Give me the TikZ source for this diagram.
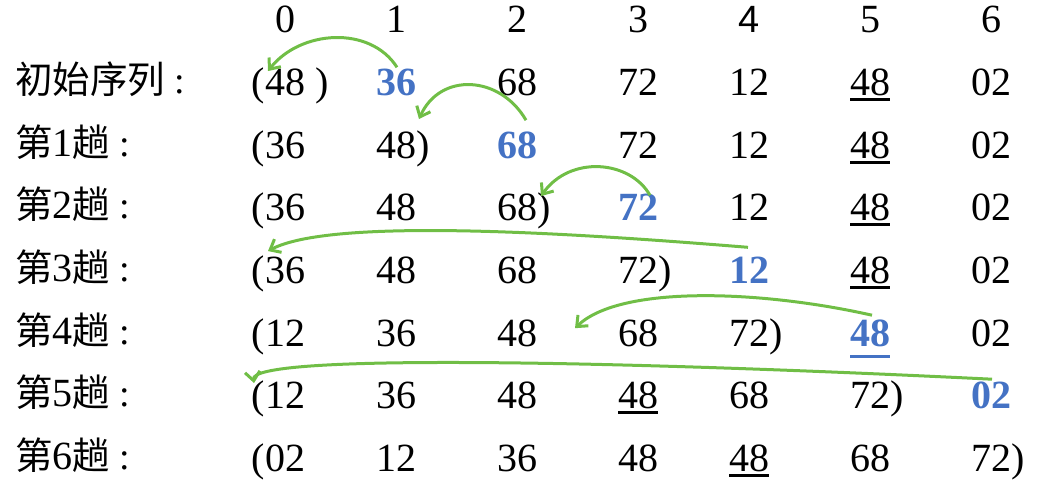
\documentclass[tikz,border=0pt]{standalone}
\usepackage{fontspec}
\setmainfont{Liberation Serif}
\newfontfamily\cjk{Noto Sans CJK SC}
\newfontfamily\hdsans{Liberation Sans}
\usetikzlibrary{arrows.meta,calc}
\definecolor{cblue}{RGB}{68,114,196}
\definecolor{cgreen}{RGB}{112,190,70}
\newcommand\myul[1]{\setbox0\hbox{#1}\rlap{\rule[-6pt]{\wd0}{2.6pt}}\box0}
\newcommand\myulb[1]{\setbox0\hbox{#1}\rlap{\rule[-12pt]{\wd0}{3pt}}\box0}
\newcommand\lab[1]{{\cjk\fontsize{37.5}{44}\selectfont #1}}
\newcommand\colonmark{\kern9pt{\fontsize{38}{44}\selectfont :}}
\tikzset{
  num/.style={anchor=base, inner sep=0pt, font=\fontsize{40}{48}\selectfont},
  hl/.style={anchor=base, inner sep=0pt, text=cblue, font=\fontsize{40}{48}\selectfont\bfseries},
  rowlab/.style={anchor=base west, inner sep=0pt, font=\fontsize{40}{48}\selectfont},
  mv/.style={draw=cgreen, line width=3pt, -{Straight Barb[length=9pt,width=15pt]}},
}
\begin{document}
\begin{tikzpicture}[x=1pt,y=-1pt]
\useasboundingbox (0,0) rectangle (1046,490);
% header
\node[num] (h0) at (285,32) {0};
\node[num] (h1) at (396,32) {1};
\node[num] (h2) at (517,32) {2};
\node[num] (h3) at (638,32) {3};
\node[num,font=\hdsans\fontsize{38}{44}\selectfont] (h4) at (749,32) {4};
\node[num] (h5) at (870,32) {5};
\node[num] (h6) at (991,32) {6};
% labels
\node[rowlab] (l0) at (15,93) {\lab{初始序列}\colonmark};
\node[rowlab] (l1) at (15,156) {\lab{第}1\lab{趟}\colonmark};
\node[rowlab] (l2) at (15,218) {\lab{第}2\lab{趟}\colonmark};
\node[rowlab] (l3) at (15,281) {\lab{第}3\lab{趟}\colonmark};
\node[rowlab] (l4) at (15,344) {\lab{第}4\lab{趟}\colonmark};
\node[rowlab] (l5) at (15,406) {\lab{第}5\lab{趟}\colonmark};
\node[rowlab] (l6) at (15,469) {\lab{第}6\lab{趟}\colonmark};
% row 0
\node[num] (r0c0) at (285,95) {\llap{(}48\rlap{\kern10pt)}};
\node[hl]  (r0c1) at (396,95) {36};
\node[num] (r0c2) at (517,95) {68};
\node[num] (r0c3) at (638,95) {72};
\node[num] (r0c4) at (749,95) {12};
\node[num] (r0c5) at (870,95) {\myul{48}};
\node[num] (r0c6) at (991,95) {02};
% row 1
\node[num] (r1c0) at (285,158) {\llap{(}36};
\node[num] (r1c1) at (396,158) {48\rlap{)}};
\node[hl]  (r1c2) at (517,158) {68};
\node[num] (r1c3) at (638,158) {72};
\node[num] (r1c4) at (749,158) {12};
\node[num] (r1c5) at (870,158) {\myul{48}};
\node[num] (r1c6) at (991,158) {02};
% row 2
\node[num] (r2c0) at (285,220) {\llap{(}36};
\node[num] (r2c1) at (396,220) {48};
\node[num] (r2c2) at (517,220) {68\rlap{)}};
\node[hl]  (r2c3) at (638,220) {72};
\node[num] (r2c4) at (749,220) {12};
\node[num] (r2c5) at (870,220) {\myul{48}};
\node[num] (r2c6) at (991,220) {02};
% row 3
\node[num] (r3c0) at (285,283) {\llap{(}36};
\node[num] (r3c1) at (396,283) {48};
\node[num] (r3c2) at (517,283) {68};
\node[num] (r3c3) at (638,283) {72\rlap{)}};
\node[hl]  (r3c4) at (749,283) {12};
\node[num] (r3c5) at (870,283) {\myul{48}};
\node[num] (r3c6) at (991,283) {02};
% row 4
\node[num] (r4c0) at (285,346) {\llap{(}12};
\node[num] (r4c1) at (396,346) {36};
\node[num] (r4c2) at (517,346) {48};
\node[num] (r4c3) at (638,346) {68};
\node[num] (r4c4) at (749,346) {72\rlap{)}};
\node[hl]  (r4c5) at (870,346) {\myulb{48}};
\node[num] (r4c6) at (991,346) {02};
% row 5
\node[num] (r5c0) at (285,408) {\llap{(}12};
\node[num] (r5c1) at (396,408) {36};
\node[num] (r5c2) at (517,408) {48};
\node[num] (r5c3) at (638,408) {\myul{48}};
\node[num] (r5c4) at (749,408) {68};
\node[num] (r5c5) at (870,408) {72\rlap{)}};
\node[hl]  (r5c6) at (991,408) {02};
% row 6
\node[num] (r6c0) at (285,471) {\llap{(}02};
\node[num] (r6c1) at (396,471) {12};
\node[num] (r6c2) at (517,471) {36};
\node[num] (r6c3) at (638,471) {48};
\node[num] (r6c4) at (749,471) {\myul{48}};
\node[num] (r6c5) at (870,471) {68};
\node[num] (r6c6) at (991,471) {72\rlap{)}};
% arrow end points
\coordinate (a1s) at ($(r0c1.north)+(1,-1)$);
\coordinate (a1e) at ($(r0c0.north)+(-17,4)$);
\coordinate (a2s) at ($(r1c2.north)+(9,-11)$);
\coordinate (a2e) at ($(r1c1.north)+(23,-11)$);
\coordinate (a3s) at ($(r2c3.north)+(12,2)$);
\coordinate (a3e) at ($(r2c2.north)+(24,4)$);
\coordinate (a4s) at ($(r3c4.north)+(-1,-9)$);
\coordinate (a4e) at ($(r3c0.north)+(-17,-4)$);
\coordinate (a5s) at ($(r4c5.north)+(2,-4)$);
\coordinate (a5e) at ($(r4c2.north)+(58,9)$);
\coordinate (a6s) at ($(r5c6.north)+(1,-2)$);
\coordinate (a6e) at ($(r5c0.north)+(-31,3)$);
% arrows
\draw[mv] (a1s) .. controls (370,25) and (300,30) .. (a1e);
\draw[mv] (a2s) .. controls (500,75) and (440,72) .. (a2e);
\draw[mv] (a3s) .. controls (630,160) and (570,155) .. (a3e);
\draw[mv] (a4s) .. controls (560,232) and (330,218) .. (a4e);
\draw[mv] (a5s) .. controls (760,290) and (620,285) .. (a5e);
\draw[mv] (a6s) .. controls (600,360) and (250,354) .. (a6e);
\end{tikzpicture}
\end{document}
